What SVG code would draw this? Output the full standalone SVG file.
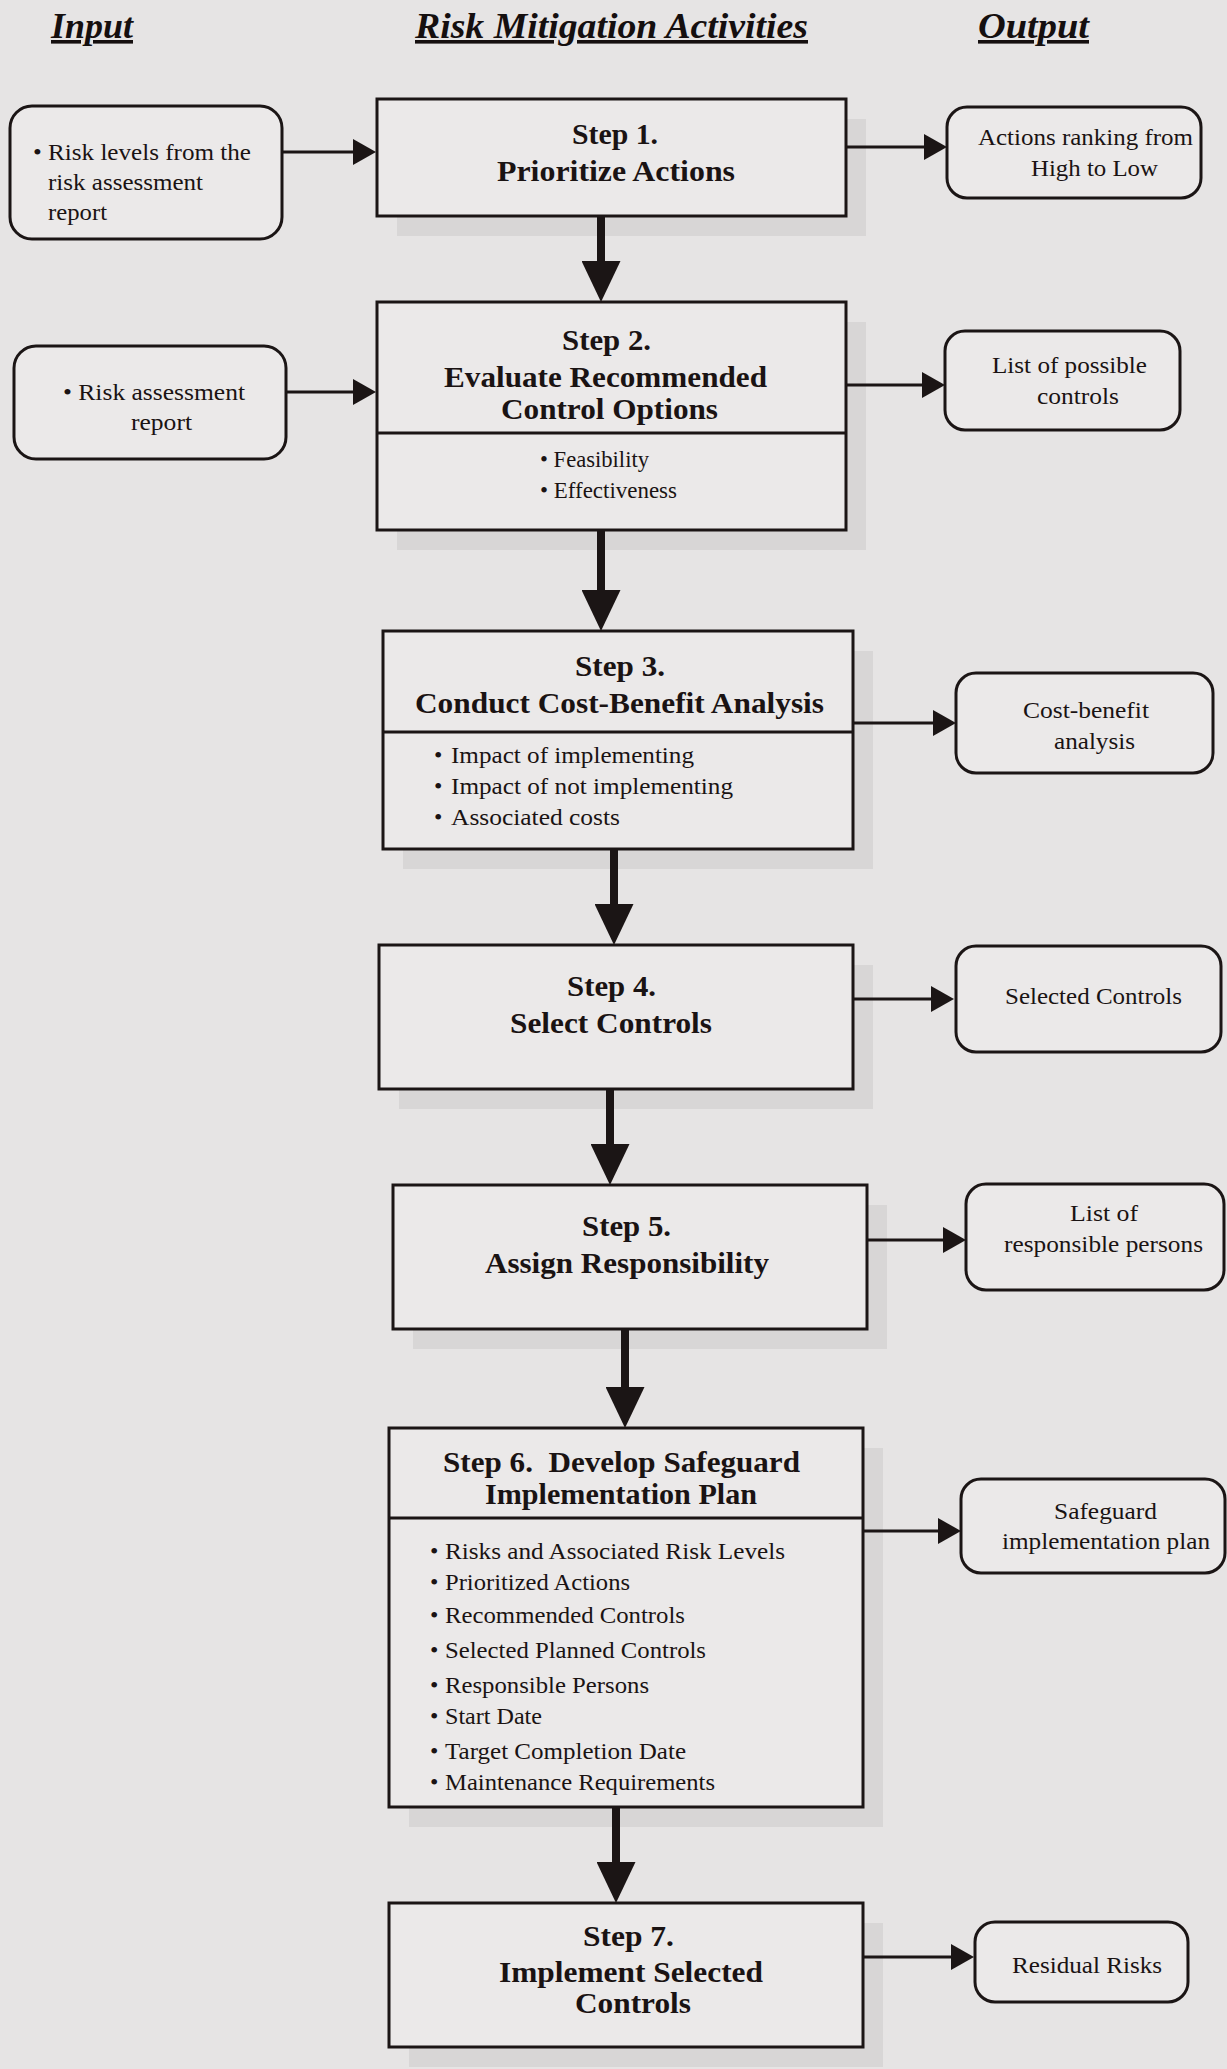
<svg xmlns="http://www.w3.org/2000/svg" width="1227" height="2069" viewBox="0 0 1227 2069">
<style>
  .bg { fill: #e6e4e4; }
  .step { fill: #ebe9e9; stroke: #1b1515; stroke-width: 3; }
  .shadow { fill: #d8d6d6; }
  .io { fill: #ebe9e9; stroke: #1b1515; stroke-width: 3; }
  .div { stroke: #1b1515; stroke-width: 3; }
  .title { font-family: "Liberation Serif", "Times New Roman", serif; font-weight: bold; font-style: italic; font-size: 36px; fill: #150f0f; text-decoration: underline; }
  .st { font-family: "Liberation Serif", "Times New Roman", serif; font-weight: bold; font-size: 30px; fill: #1a1313; }
  .tx { font-family: "Liberation Serif", "Times New Roman", serif; font-size: 24px; fill: #1a1313; }
  .big { stroke: #1b1515; stroke-width: 8; fill: none; }
  .thin { stroke: #1b1515; stroke-width: 3; fill: none; }
</style>
<defs>
  <marker id="headBig" markerUnits="userSpaceOnUse" viewBox="0 0 41 39" markerWidth="41" markerHeight="39" refX="0" refY="19.5" orient="auto">
    <path d="M0,0 L41,19.5 L0,39 Z" fill="#1b1515"/>
  </marker>
  <marker id="headSmall" markerUnits="userSpaceOnUse" viewBox="0 0 23 26" markerWidth="23" markerHeight="26" refX="0" refY="13" orient="auto">
    <path d="M0,0 L23,13 L0,26 Z" fill="#1b1515"/>
  </marker>
</defs>
<rect class="bg" x="0" y="0" width="1227" height="2069"/>

<g id="titles">
  <text class="title" x="51" y="38" textLength="82" lengthAdjust="spacingAndGlyphs">Input</text>
  <text class="title" x="415" y="38" textLength="393" lengthAdjust="spacingAndGlyphs">Risk Mitigation Activities</text>
  <text class="title" x="978" y="38" textLength="111" lengthAdjust="spacingAndGlyphs">Output</text>
</g>

<g id="input1">
  <rect class="io" x="10" y="106" width="272" height="133" rx="22"/>
  <text class="tx" x="33" y="160" textLength="218" lengthAdjust="spacingAndGlyphs">• Risk levels from the</text>
  <text class="tx" x="48" y="190" textLength="155" lengthAdjust="spacingAndGlyphs">risk assessment</text>
  <text class="tx" x="48" y="220" textLength="59" lengthAdjust="spacingAndGlyphs">report</text>
</g>

<g id="input2">
  <rect class="io" x="14" y="346" width="272" height="113" rx="22"/>
  <text class="tx" x="63" y="400" textLength="182" lengthAdjust="spacingAndGlyphs">• Risk assessment</text>
  <text class="tx" x="131" y="430" textLength="61" lengthAdjust="spacingAndGlyphs">report</text>
</g>

<g id="step1">
  <rect class="shadow" x="397" y="119" width="469" height="117"/>
  <rect class="step" x="377" y="99" width="469" height="117"/>
  <text class="st" x="572" y="144" textLength="86" lengthAdjust="spacingAndGlyphs">Step 1.</text>
  <text class="st" x="497" y="181" textLength="238" lengthAdjust="spacingAndGlyphs">Prioritize Actions</text>
</g>

<g id="step2">
  <rect class="shadow" x="397" y="322" width="469" height="228"/>
  <rect class="step" x="377" y="302" width="469" height="228"/>
  <line class="div" x1="377" y1="433" x2="846" y2="433"/>
  <text class="st" x="562" y="350" textLength="89" lengthAdjust="spacingAndGlyphs">Step 2.</text>
  <text class="st" x="444" y="387" textLength="323" lengthAdjust="spacingAndGlyphs">Evaluate Recommended</text>
  <text class="st" x="501" y="419" textLength="217" lengthAdjust="spacingAndGlyphs">Control Options</text>
  <text class="tx" x="540" y="467" textLength="109" lengthAdjust="spacingAndGlyphs">• Feasibility</text>
  <text class="tx" x="540" y="498" textLength="137" lengthAdjust="spacingAndGlyphs">• Effectiveness</text>
</g>

<g id="step3">
  <rect class="shadow" x="403" y="651" width="470" height="218"/>
  <rect class="step" x="383" y="631" width="470" height="218"/>
  <line class="div" x1="383" y1="732" x2="853" y2="732"/>
  <text class="st" x="575" y="676" textLength="90" lengthAdjust="spacingAndGlyphs">Step 3.</text>
  <text class="st" x="415" y="713" textLength="409" lengthAdjust="spacingAndGlyphs">Conduct Cost-Benefit Analysis</text>
  <text class="tx" x="434" y="763">•</text>
  <text class="tx" x="451" y="763" textLength="243" lengthAdjust="spacingAndGlyphs">Impact of implementing</text>
  <text class="tx" x="434" y="794">•</text>
  <text class="tx" x="451" y="794" textLength="282" lengthAdjust="spacingAndGlyphs">Impact of not implementing</text>
  <text class="tx" x="434" y="825">•</text>
  <text class="tx" x="451" y="825" textLength="169" lengthAdjust="spacingAndGlyphs">Associated costs</text>
</g>

<g id="step4">
  <rect class="shadow" x="399" y="965" width="474" height="144"/>
  <rect class="step" x="379" y="945" width="474" height="144"/>
  <text class="st" x="567" y="996" textLength="89" lengthAdjust="spacingAndGlyphs">Step 4.</text>
  <text class="st" x="510" y="1033" textLength="202" lengthAdjust="spacingAndGlyphs">Select Controls</text>
</g>

<g id="step5">
  <rect class="shadow" x="413" y="1205" width="474" height="144"/>
  <rect class="step" x="393" y="1185" width="474" height="144"/>
  <text class="st" x="582" y="1236" textLength="89" lengthAdjust="spacingAndGlyphs">Step 5.</text>
  <text class="st" x="485" y="1273" textLength="284" lengthAdjust="spacingAndGlyphs">Assign Responsibility</text>
</g>

<g id="step6">
  <rect class="shadow" x="409" y="1448" width="474" height="379"/>
  <rect class="step" x="389" y="1428" width="474" height="379"/>
  <line class="div" x1="389" y1="1518" x2="863" y2="1518"/>
  <text class="st" x="443" y="1472" textLength="357" lengthAdjust="spacingAndGlyphs">Step 6.&#160; Develop Safeguard</text>
  <text class="st" x="485" y="1504" textLength="272" lengthAdjust="spacingAndGlyphs">Implementation Plan</text>
  <text class="tx" x="430" y="1559">•</text>
  <text class="tx" x="445" y="1559" textLength="340" lengthAdjust="spacingAndGlyphs">Risks and Associated Risk Levels</text>
  <text class="tx" x="430" y="1590">•</text>
  <text class="tx" x="445" y="1590" textLength="185" lengthAdjust="spacingAndGlyphs">Prioritized Actions</text>
  <text class="tx" x="430" y="1623">•</text>
  <text class="tx" x="445" y="1623" textLength="240" lengthAdjust="spacingAndGlyphs">Recommended Controls</text>
  <text class="tx" x="430" y="1658">•</text>
  <text class="tx" x="445" y="1658" textLength="261" lengthAdjust="spacingAndGlyphs">Selected Planned Controls</text>
  <text class="tx" x="430" y="1693">•</text>
  <text class="tx" x="445" y="1693" textLength="204" lengthAdjust="spacingAndGlyphs">Responsible Persons</text>
  <text class="tx" x="430" y="1724">•</text>
  <text class="tx" x="445" y="1724" textLength="97" lengthAdjust="spacingAndGlyphs">Start Date</text>
  <text class="tx" x="430" y="1759">•</text>
  <text class="tx" x="445" y="1759" textLength="241" lengthAdjust="spacingAndGlyphs">Target Completion Date</text>
  <text class="tx" x="430" y="1790">•</text>
  <text class="tx" x="445" y="1790" textLength="270" lengthAdjust="spacingAndGlyphs">Maintenance Requirements</text>
</g>

<g id="step7">
  <rect class="shadow" x="409" y="1923" width="474" height="144"/>
  <rect class="step" x="389" y="1903" width="474" height="144"/>
  <text class="st" x="583" y="1946" textLength="91" lengthAdjust="spacingAndGlyphs">Step 7.</text>
  <text class="st" x="499" y="1982" textLength="264" lengthAdjust="spacingAndGlyphs">Implement Selected</text>
  <text class="st" x="575" y="2013" textLength="116" lengthAdjust="spacingAndGlyphs">Controls</text>
</g>

<g id="output1">
  <rect class="io" x="947" y="107" width="254" height="91" rx="20"/>
  <text class="tx" x="978" y="145" textLength="215" lengthAdjust="spacingAndGlyphs">Actions ranking from</text>
  <text class="tx" x="1031" y="176" textLength="127" lengthAdjust="spacingAndGlyphs">High to Low</text>
</g>

<g id="output2">
  <rect class="io" x="945" y="331" width="235" height="99" rx="20"/>
  <text class="tx" x="992" y="373" textLength="155" lengthAdjust="spacingAndGlyphs">List of possible</text>
  <text class="tx" x="1037" y="404" textLength="82" lengthAdjust="spacingAndGlyphs">controls</text>
</g>

<g id="output3">
  <rect class="io" x="956" y="673" width="257" height="100" rx="20"/>
  <text class="tx" x="1023" y="718" textLength="126" lengthAdjust="spacingAndGlyphs">Cost-benefit</text>
  <text class="tx" x="1054" y="749" textLength="81" lengthAdjust="spacingAndGlyphs">analysis</text>
</g>

<g id="output4">
  <rect class="io" x="956" y="946" width="265" height="106" rx="20"/>
  <text class="tx" x="1005" y="1004" textLength="177" lengthAdjust="spacingAndGlyphs">Selected Controls</text>
</g>

<g id="output5">
  <rect class="io" x="966" y="1184" width="258" height="106" rx="20"/>
  <text class="tx" x="1070" y="1221" textLength="68" lengthAdjust="spacingAndGlyphs">List of</text>
  <text class="tx" x="1004" y="1252" textLength="199" lengthAdjust="spacingAndGlyphs">responsible persons</text>
</g>

<g id="output6">
  <rect class="io" x="961" y="1479" width="264" height="94" rx="20"/>
  <text class="tx" x="1054" y="1519" textLength="103" lengthAdjust="spacingAndGlyphs">Safeguard</text>
  <text class="tx" x="1002" y="1549" textLength="208" lengthAdjust="spacingAndGlyphs">implementation plan</text>
</g>

<g id="output7">
  <rect class="io" x="975" y="1922" width="213" height="80" rx="20"/>
  <text class="tx" x="1012" y="1973" textLength="150" lengthAdjust="spacingAndGlyphs">Residual Risks</text>
</g>

<g id="connectors">
  <line class="big" x1="601" y1="216" x2="601" y2="261" marker-end="url(#headBig)"/>
  <line class="big" x1="601" y1="530" x2="601" y2="590" marker-end="url(#headBig)"/>
  <line class="big" x1="614" y1="849" x2="614" y2="904" marker-end="url(#headBig)"/>
  <line class="big" x1="610" y1="1089" x2="610" y2="1144" marker-end="url(#headBig)"/>
  <line class="big" x1="625" y1="1329" x2="625" y2="1387" marker-end="url(#headBig)"/>
  <line class="big" x1="616" y1="1807" x2="616" y2="1862" marker-end="url(#headBig)"/>
  <line class="thin" x1="282" y1="152" x2="353" y2="152" marker-end="url(#headSmall)"/>
  <line class="thin" x1="286" y1="392" x2="353" y2="392" marker-end="url(#headSmall)"/>
  <line class="thin" x1="846" y1="147" x2="924" y2="147" marker-end="url(#headSmall)"/>
  <line class="thin" x1="846" y1="385" x2="922" y2="385" marker-end="url(#headSmall)"/>
  <line class="thin" x1="853" y1="723" x2="933" y2="723" marker-end="url(#headSmall)"/>
  <line class="thin" x1="853" y1="999" x2="931" y2="999" marker-end="url(#headSmall)"/>
  <line class="thin" x1="867" y1="1240" x2="943" y2="1240" marker-end="url(#headSmall)"/>
  <line class="thin" x1="863" y1="1531" x2="938" y2="1531" marker-end="url(#headSmall)"/>
  <line class="thin" x1="863" y1="1957" x2="951" y2="1957" marker-end="url(#headSmall)"/>
</g>
</svg>
